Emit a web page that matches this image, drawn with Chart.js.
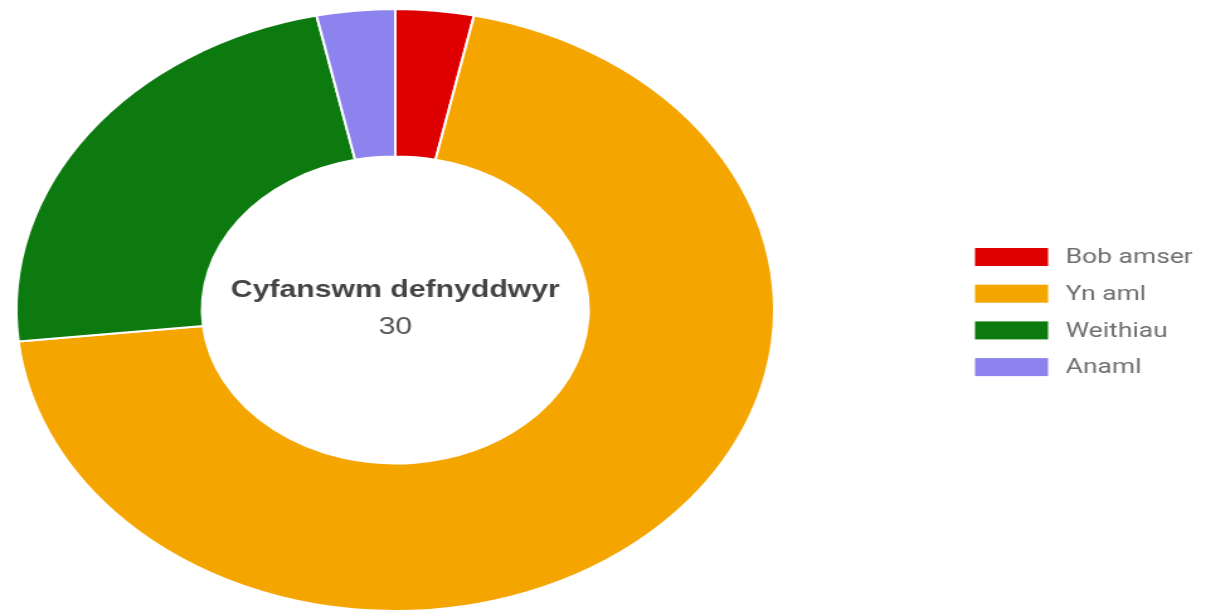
<!DOCTYPE html>
<html>
<head>
<meta charset="utf-8">
<script src="https://cdn.jsdelivr.net/npm/chart.js@4/dist/chart.umd.min.js"></script>
<style>
    html, body { margin: 0; padding: 0; background: #fff; overflow: hidden; }
    /* the reference is stretched sideways, so the whole chart is drawn narrow and scaled */
    #wrap { width: 958px; height: 613px; transform: scale(1.2589, 1); transform-origin: 0 0; }
</style>
</head>
<body>
<div id="wrap"><canvas id="users-chart" width="958" height="613"></canvas></div>
<script>
const labels = ['Bob amser', 'Yn aml', 'Weithiau', 'Anaml'];
const values = [1, 21, 7, 1];
const colors = ['#de0000', '#f5a500', '#0c7a0f', '#8c83ef'];
const centerTitle = 'Cyfanswm defnyddwyr';

// total in the hole
const centerText = {
    id: 'centerText',
    afterDraw(chart) {
        const meta = chart.getDatasetMeta(0);
        if (!meta.data.length) return;
        const { x, y } = meta.data[0];
        const ctx = chart.ctx;
        const total = chart.data.datasets[0].data.reduce((s, v) => s + v, 0);
        ctx.save();
        ctx.textAlign = 'center';
        ctx.textBaseline = 'alphabetic';
        ctx.fillStyle = '#444';
        ctx.font = 'bold 24px "Liberation Sans", Arial, sans-serif';
        ctx.fillText(centerTitle, x, y - 13);
        ctx.fillStyle = '#555';
        ctx.font = '24px "Liberation Sans", Arial, sans-serif';
        ctx.fillText(String(total), x, y + 24);
        ctx.restore();
    }
};

// legend on the right, well away from the ring
const sideLegend = {
    id: 'sideLegend',
    afterDraw(chart) {
        const ctx = chart.ctx;
        const ds = chart.data.datasets[0];
        const left = 774.5, top = 248, boxW = 58, boxH = 18, step = 36.7;
        ctx.save();
        ctx.font = '21px Roboto, sans-serif';
        ctx.textBaseline = 'middle';
        ctx.textAlign = 'left';
        chart.data.labels.forEach((lab, i) => {
            const y = top + i * step;
            ctx.fillStyle = ds.backgroundColor[i];
            ctx.fillRect(left, y, boxW, boxH);
            ctx.fillStyle = '#6f6f6f';
            ctx.fillText(lab, left + 72, y + boxH / 2 + 1);
        });
        ctx.restore();
    }
};

new Chart(document.getElementById('users-chart'), {
    type: 'doughnut',
    data: {
        labels: labels,
        datasets: [{
            data: values,
            backgroundColor: colors,
            borderColor: '#ffffff',
            borderWidth: 2
        }]
    },
    options: {
        responsive: false,
        animation: false,
        cutout: '51%',
        layout: { padding: { top: 8, bottom: 1, left: 12, right: 342 } },
        plugins: {
            legend: { display: false },
            tooltip: { enabled: false }
        }
    },
    plugins: [centerText, sideLegend]
});
</script>
</body>
</html>
